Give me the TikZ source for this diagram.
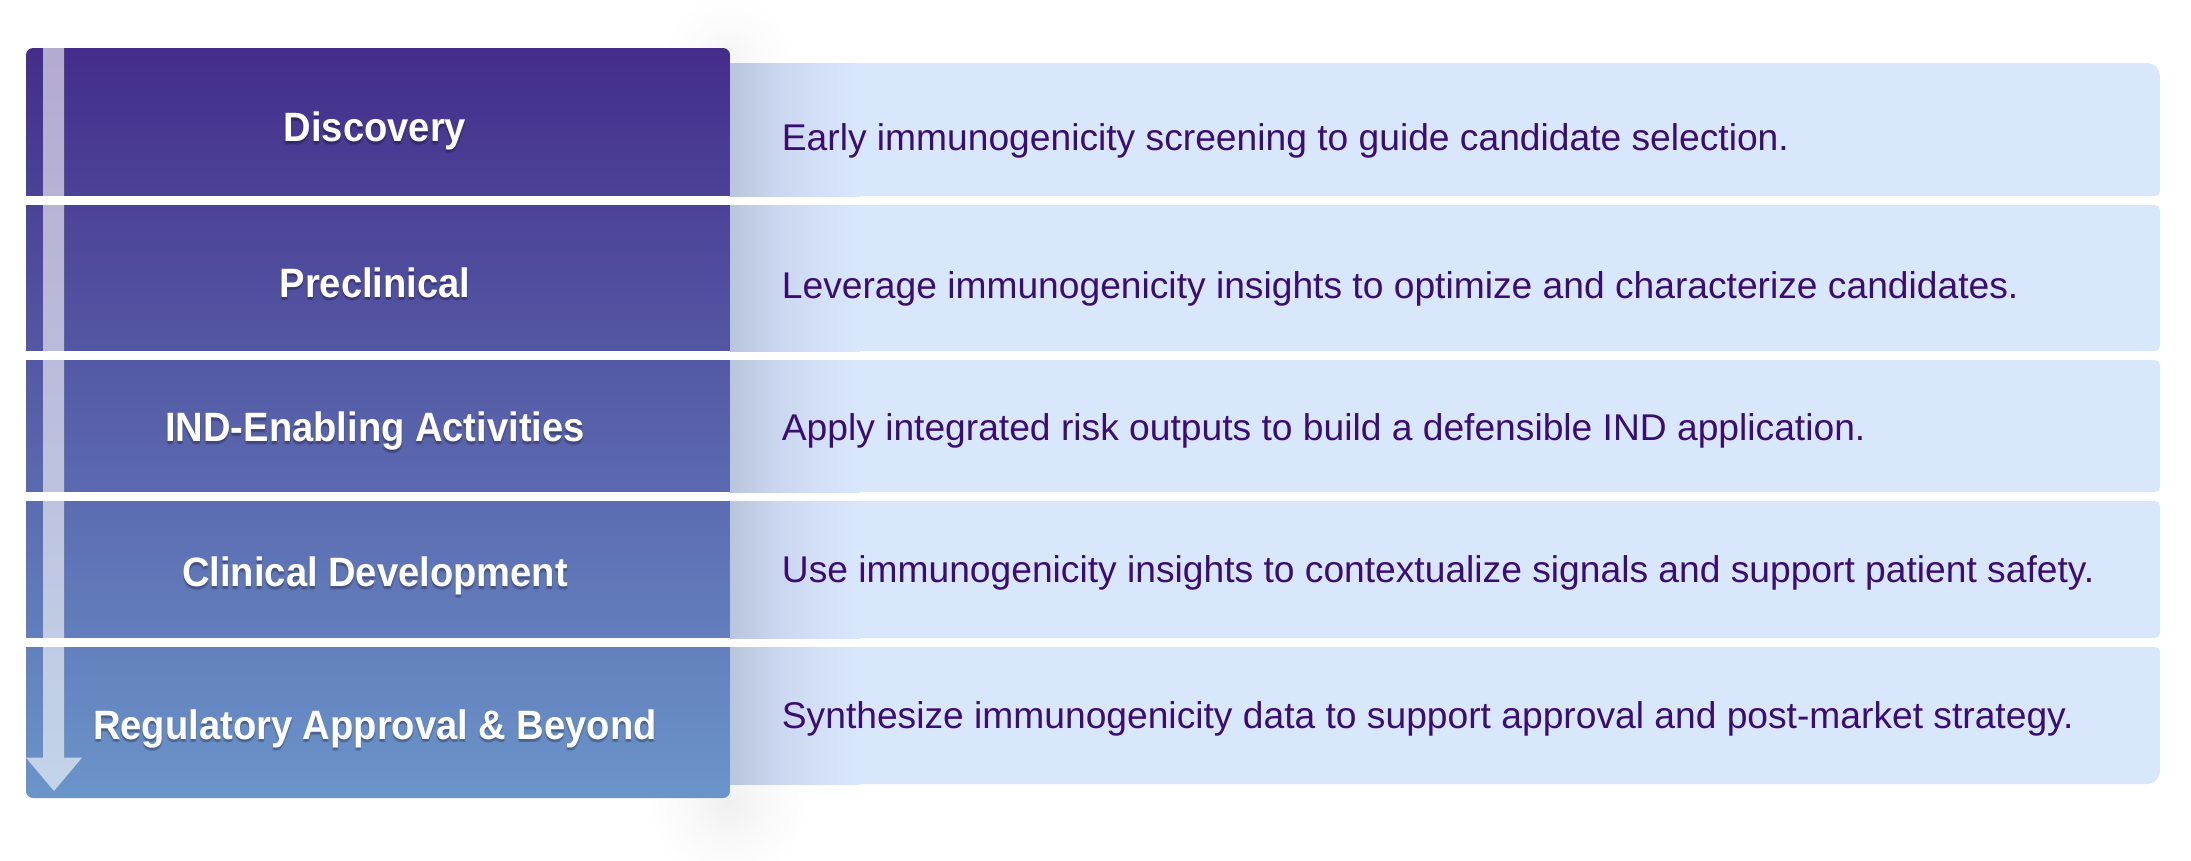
\documentclass[tikz,border=0pt]{standalone}
\usepackage{fontspec}
\setmainfont{Liberation Sans}
\newfontfamily\labfont{Liberation Sans}[FakeStretch=0.93]
\definecolor{panel}{HTML}{D9E7FD}
\definecolor{txt}{HTML}{3B0D71}
\definecolor{topc}{HTML}{442D8A}
\definecolor{botc}{HTML}{6B95CA}
\definecolor{shA}{HTML}{B8C5DB}
\definecolor{shB}{HTML}{CAD6EF}
\pgfdeclareradialshading{blobbot}{\pgfpoint{0bp}{0bp}}{color(0bp)=(black!6); color(12bp)=(black!2.5); color(25bp)=(white); color(50bp)=(white)}
\pgfdeclareradialshading{blobtop}{\pgfpoint{0bp}{0bp}}{color(0bp)=(black!4); color(12bp)=(black!1.5); color(25bp)=(white); color(50bp)=(white)}
\pgfdeclarehorizontalshading{panelshadow}{100bp}{color(0bp)=(shA); color(25bp)=(shA); color(42bp)=(shB); color(60bp)=(panel!60!shB); color(75bp)=(panel); color(100bp)=(panel)}
\newcommand\phaselabel[3]{%
  \foreach \dx/\dy [count=\k] in {0/2,0/3.5,1/3,-1/3}
    \node[labsh, xshift=\dx pt, yshift=-\dy pt] (#1sh\k) at (375,#2) {#3};
  \node[lab] (#1) at (375,#2) {#3};}
\begin{document}
\begin{tikzpicture}[x=1pt,y=-1pt,
  lab/.style={text=white, font=\labfont\bfseries\fontsize{41}{41}\selectfont, anchor=base, inner sep=0pt},
  labsh/.style={text=black, text opacity=0.08, font=\labfont\bfseries\fontsize{41}{41}\selectfont, anchor=base, inner sep=0pt},
  desc/.style={text=txt, font=\fontsize{37.2}{37.2}\selectfont, anchor=base west, inner sep=0pt},
  rowpanel/.style={fill=panel, rounded corners=5pt},
  gapfill/.style={fill=white}]
\useasboundingbox (0,0) rectangle (2191,860);
\fill[white] (0,0) rectangle (2191,860);
% soft shadow blobs near the right corners of the phase column
\shade[shading=blobbot] (728,802) circle (80);
\shade[shading=blobtop] (728,58) circle (65);
% description panels
\begin{scope}
  \clip[rounded corners=5pt] (700,63) rectangle (2160,196);
  \fill[panel, rounded corners=13pt] (700,63) rectangle (2160,260);
\end{scope}
\fill[rowpanel] (700,205) rectangle (2160,351);
\fill[rowpanel] (700,360) rectangle (2160,492);
\fill[rowpanel] (700,501) rectangle (2160,638);
\begin{scope}
  \clip[rounded corners=5pt] (700,647) rectangle (2160,784);
  \fill[panel, rounded corners=13pt] (700,590) rectangle (2160,784);
\end{scope}
% shadow cast on the panels by the phase column
\foreach \ya/\yb in {63/196,205/351,360/492,501/638,647/784}{
  \shade[shading=panelshadow] (730,\ya) rectangle (860,\yb);
}
% phase column
\shade[top color=topc, bottom color=botc, rounded corners=7pt] (26,48) rectangle (730,798);
% downward arrow
\fill[white, opacity=0.6] (43,48) -- (64,48) -- (64,757.7) -- (82,757.7) -- (54,791) -- (26,757.7) -- (43,757.7) -- cycle;
% separators
\fill[gapfill] (26,196) rectangle (730,205);
\fill[gapfill] (26,351) rectangle (730,360);
\fill[gapfill] (26,492) rectangle (730,501);
\fill[gapfill] (26,638) rectangle (730,647);
% phase labels
\phaselabel{p1}{141.7}{Discovery}
\phaselabel{p2}{297}{Preclinical}
\phaselabel{p3}{441.5}{IND-Enabling Activities}
\phaselabel{p4}{586.8}{Clinical Development}
\phaselabel{p5}{739}{Regulatory Approval \& Beyond}
% descriptions
\node[desc] (d1) at (781.7,150.7) {Early immunogenicity screening to guide candidate selection.};
\node[desc] (d2) at (781.7,298.2) {Leverage immunogenicity insights to optimize and characterize candidates.};
\node[desc] (d3) at (781.7,440.4) {Apply integrated risk outputs to build a defensible IND application.};
\node[desc] (d4) at (781.7,582.9) {Use immunogenicity insights to contextualize signals and support patient safety.};
\node[desc] (d5) at (781.7,728.6) {Synthesize immunogenicity data to support approval and post-market strategy.};
\end{tikzpicture}
\end{document}
